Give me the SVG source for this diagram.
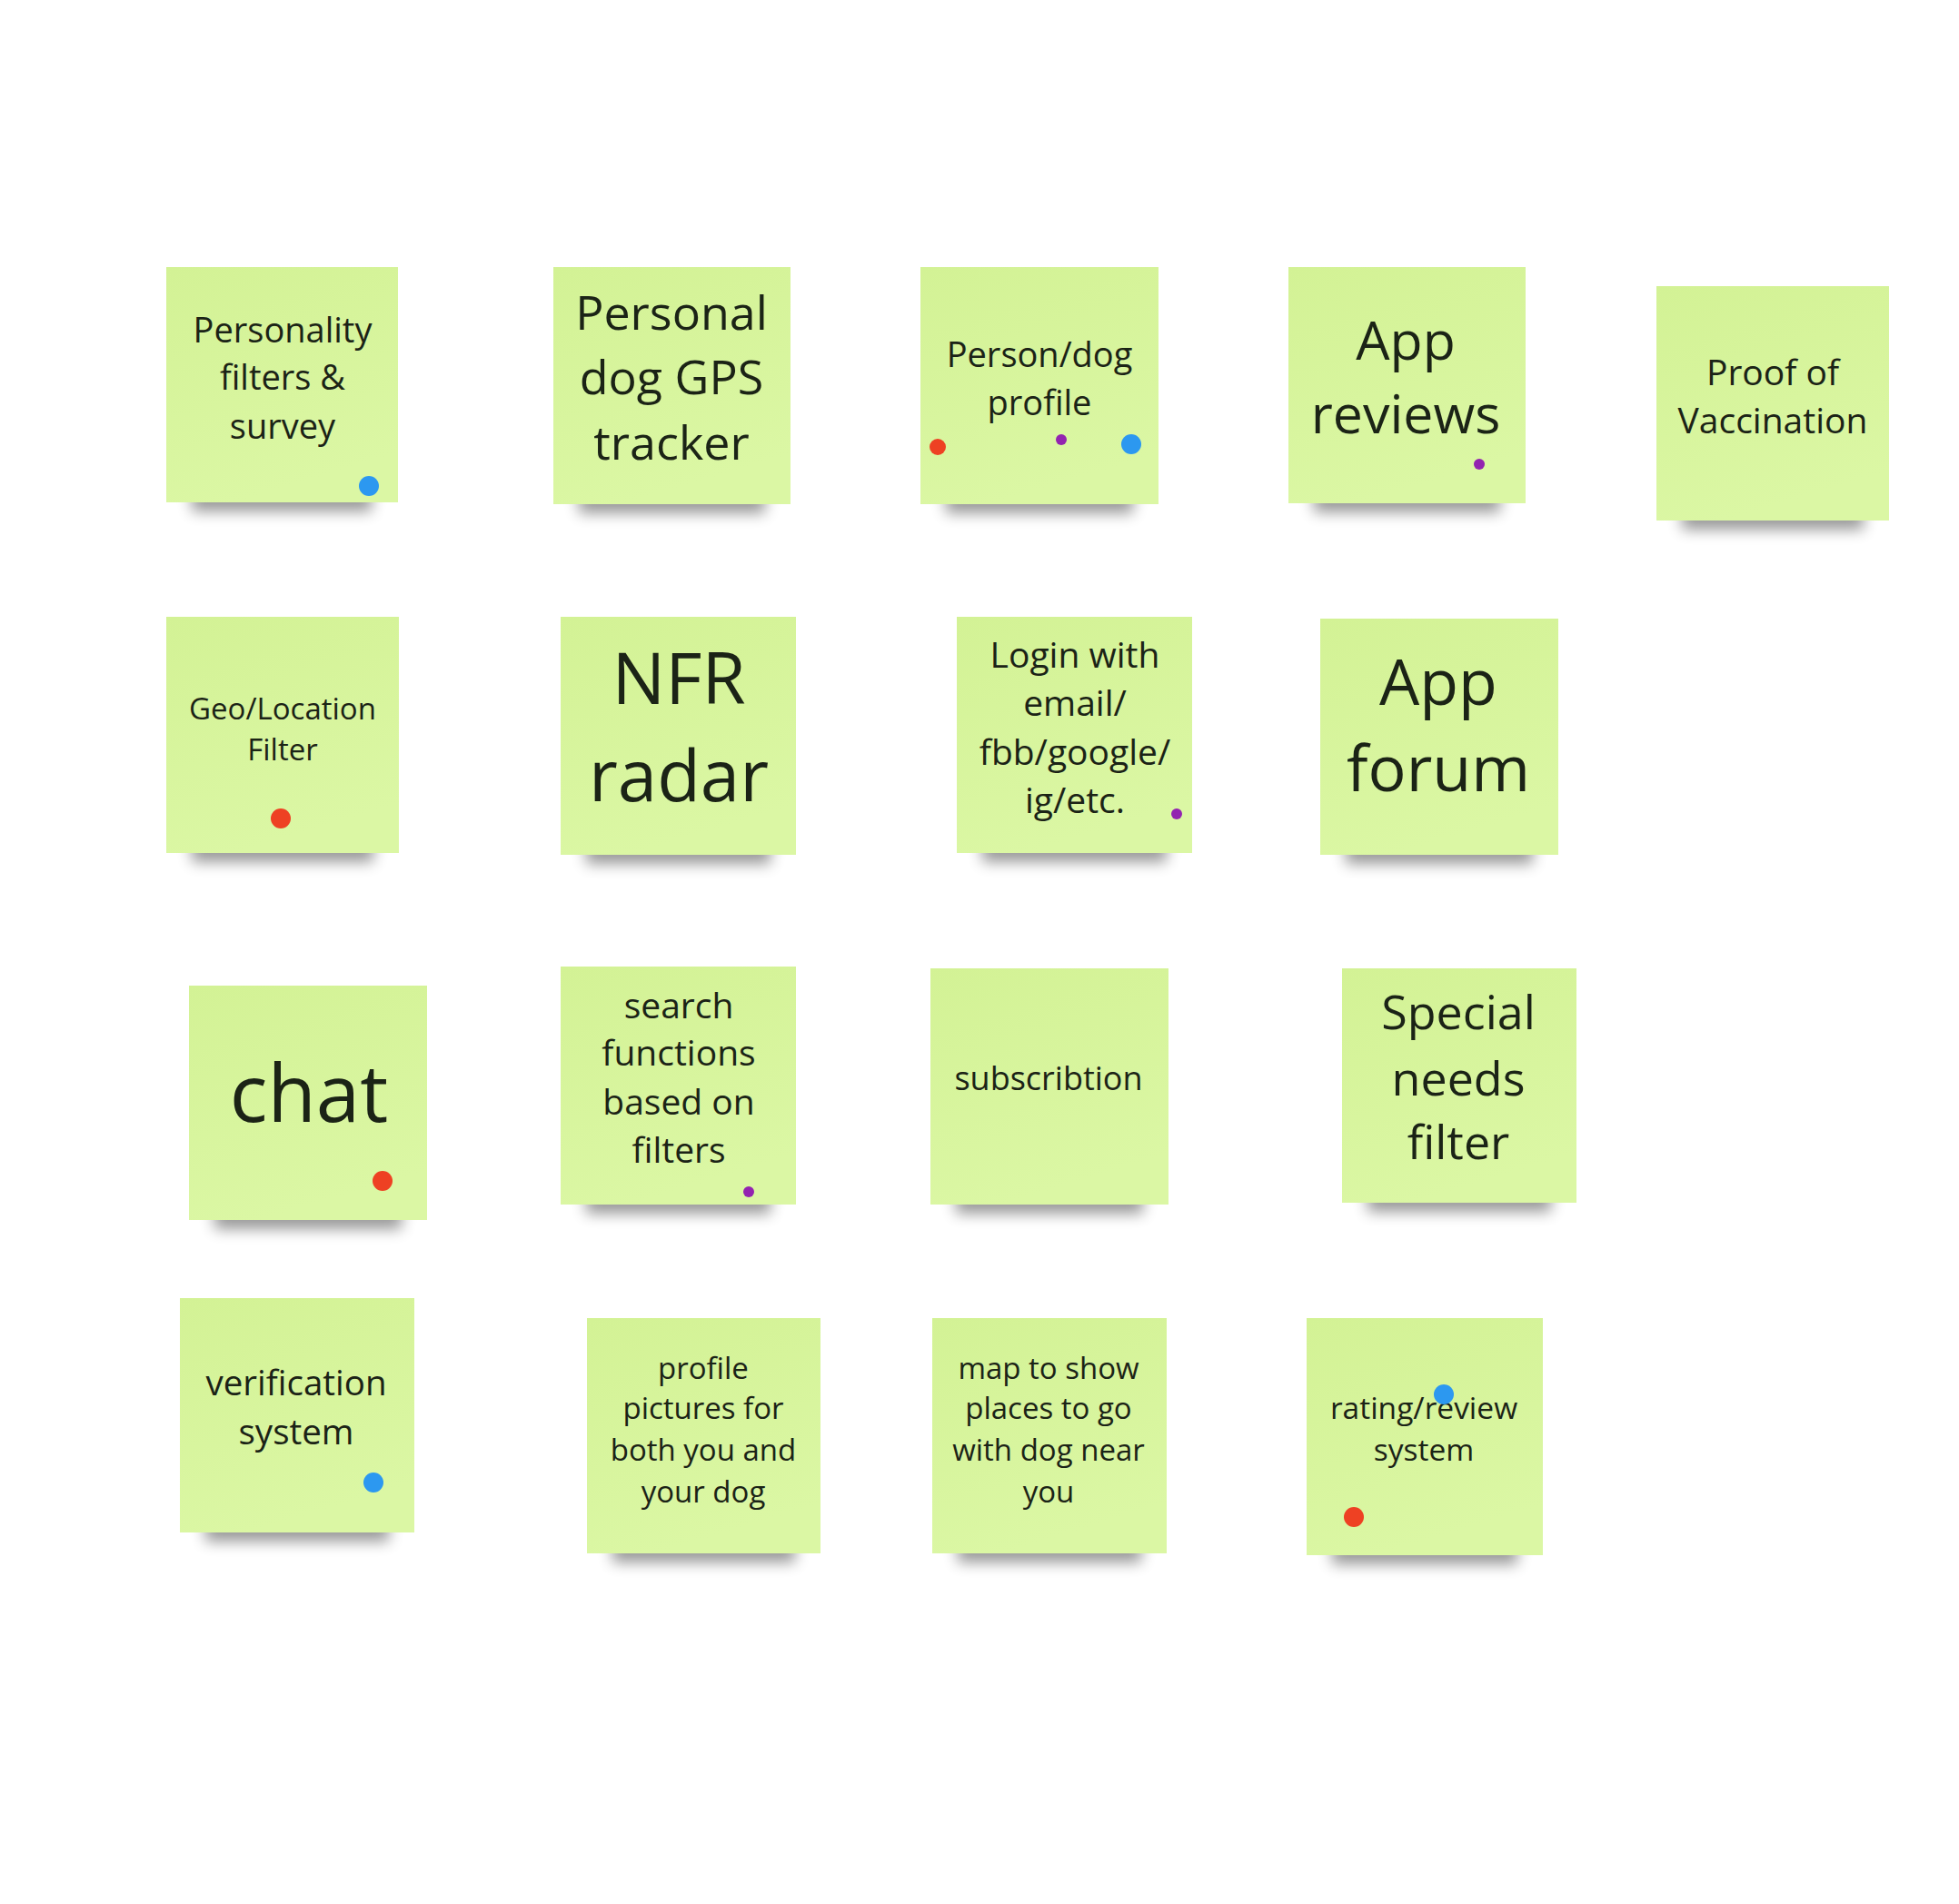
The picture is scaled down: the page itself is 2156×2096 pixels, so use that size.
<svg xmlns="http://www.w3.org/2000/svg" width="2156" height="2096" viewBox="0 0 2156 2096">
<style>
.note{fill:url(#paper)}
.sh{fill:#000;opacity:0.4;filter:url(#blur)}
text{font-family:"Open Sans","Noto Sans","Liberation Sans",sans-serif;fill:#1b2316;text-anchor:middle}
.red{fill:#ee4123}
.blue{fill:#2c98f0}
.purple{fill:#9323b0}
</style>
<defs>
<linearGradient id="paper" x1="0" y1="0" x2="0.3" y2="1">
<stop offset="0" stop-color="#d3f295"/>
<stop offset="1" stop-color="#dbf7a4"/>
</linearGradient>
<filter id="blur" x="-20%" y="-60%" width="140%" height="220%">
<feGaussianBlur stdDeviation="8"/>
</filter>
</defs>
<rect width="2156" height="2096" fill="#ffffff"/>
<g id="connectors"></g>

<g id="n1">
<rect class="sh" x="211" y="531" width="198" height="32"/>
<rect class="note" x="183" y="294" width="255" height="259"/>
<text font-size="38"><tspan x="311" y="377">Personality</tspan><tspan x="311" y="429">filters &amp;</tspan><tspan x="311" y="483">survey</tspan></text>
<circle class="blue" cx="406" cy="535" r="11"/>
</g>

<g id="n2">
<rect class="sh" x="637" y="533" width="205" height="32"/>
<rect class="note" x="609" y="294" width="261" height="261"/>
<text font-size="52"><tspan x="739" y="363">Personal</tspan><tspan x="739" y="434">dog GPS</tspan><tspan x="739" y="506">tracker</tspan></text>
</g>

<g id="n3">
<rect class="sh" x="1041" y="533" width="206" height="32"/>
<rect class="note" x="1013" y="294" width="262" height="261"/>
<text font-size="38"><tspan x="1144" y="404">Person/dog</tspan><tspan x="1144" y="457">profile</tspan></text>
<circle class="red" cx="1032" cy="492" r="9"/>
<circle class="purple" cx="1168" cy="484" r="6"/>
<circle class="blue" cx="1245" cy="489" r="11"/>
</g>

<g id="n4">
<rect class="sh" x="1446" y="532" width="205" height="32"/>
<rect class="note" x="1418" y="294" width="261" height="260"/>
<text font-size="59"><tspan x="1547" y="396">App</tspan><tspan x="1547" y="477">reviews</tspan></text>
<circle class="purple" cx="1628" cy="511" r="6"/>
</g>

<g id="n5">
<rect class="sh" x="1851" y="551" width="200" height="32"/>
<rect class="note" x="1823" y="315" width="256" height="258"/>
<text font-size="39"><tspan x="1951" y="424">Proof of</tspan><tspan x="1951" y="477">Vaccination</tspan></text>
</g>

<g id="n6">
<rect class="sh" x="211" y="917" width="200" height="32"/>
<rect class="note" x="183" y="679" width="256" height="260"/>
<text font-size="33"><tspan x="311" y="792">Geo/Location</tspan><tspan x="311" y="837">Filter</tspan></text>
<circle class="red" cx="309" cy="901" r="11"/>
</g>

<g id="n7">
<rect class="sh" x="645" y="919" width="203" height="32"/>
<rect class="note" x="617" y="679" width="259" height="262"/>
<text font-size="78"><tspan x="747" y="775">NFR</tspan><tspan x="747" y="882">radar</tspan></text>
</g>

<g id="n8">
<rect class="sh" x="1081" y="917" width="203" height="32"/>
<rect class="note" x="1053" y="679" width="259" height="260"/>
<text font-size="39"><tspan x="1183" y="735">Login with</tspan><tspan x="1183" y="788">email/</tspan><tspan x="1183" y="842">fbb/google/</tspan><tspan x="1183" y="895">ig/etc.</tspan></text>
<circle class="purple" cx="1295" cy="896" r="6"/>
</g>

<g id="n9">
<rect class="sh" x="1481" y="919" width="206" height="32"/>
<rect class="note" x="1453" y="681" width="262" height="260"/>
<text font-size="70"><tspan x="1583" y="776">App</tspan><tspan x="1583" y="871">forum</tspan></text>
</g>

<g id="n10">
<rect class="sh" x="236" y="1321" width="206" height="32"/>
<rect class="note" x="208" y="1085" width="262" height="258"/>
<text font-size="87"><tspan x="340" y="1235">chat</tspan></text>
<circle class="red" cx="421" cy="1300" r="11"/>
</g>

<g id="n11">
<rect class="sh" x="645" y="1304" width="203" height="32"/>
<rect class="note" x="617" y="1064" width="259" height="262"/>
<text font-size="39"><tspan x="747" y="1121">search</tspan><tspan x="747" y="1173">functions</tspan><tspan x="747" y="1227">based on</tspan><tspan x="747" y="1280">filters</tspan></text>
<circle class="purple" cx="824" cy="1312" r="6"/>
</g>

<g id="n12">
<rect class="sh" x="1052" y="1304" width="206" height="32"/>
<rect class="note" x="1024" y="1066" width="262" height="260"/>
<text font-size="36"><tspan x="1154" y="1200">subscribtion</tspan></text>
</g>

<g id="n13">
<rect class="sh" x="1505" y="1302" width="202" height="32"/>
<rect class="note" x="1477" y="1066" width="258" height="258"/>
<text font-size="52"><tspan x="1605" y="1133">Special</tspan><tspan x="1605" y="1206">needs</tspan><tspan x="1605" y="1276">filter</tspan></text>
</g>

<g id="n14">
<rect class="sh" x="226" y="1665" width="202" height="32"/>
<rect class="note" x="198" y="1429" width="258" height="258"/>
<text font-size="38.5"><tspan x="326" y="1536">verification</tspan><tspan x="326" y="1590">system</tspan></text>
<circle class="blue" cx="411" cy="1632" r="11"/>
</g>

<g id="n15">
<rect class="sh" x="674" y="1688" width="201" height="32"/>
<rect class="note" x="646" y="1451" width="257" height="259"/>
<text font-size="33"><tspan x="774" y="1518">profile</tspan><tspan x="774" y="1562">pictures for</tspan><tspan x="774" y="1608">both you and</tspan><tspan x="774" y="1654">your dog</tspan></text>
</g>

<g id="n16">
<rect class="sh" x="1054" y="1688" width="202" height="32"/>
<rect class="note" x="1026" y="1451" width="258" height="259"/>
<text font-size="33"><tspan x="1154" y="1518">map to show</tspan><tspan x="1154" y="1562">places to go</tspan><tspan x="1154" y="1608">with dog near</tspan><tspan x="1154" y="1654">you</tspan></text>
</g>

<g id="n17">
<rect class="sh" x="1466" y="1690" width="204" height="32"/>
<rect class="note" x="1438" y="1451" width="260" height="261"/>
<text font-size="33.5"><tspan x="1567" y="1562">rating/review</tspan><tspan x="1567" y="1608">system</tspan></text>
<circle class="blue" cx="1589" cy="1535" r="11"/>
<circle class="red" cx="1490" cy="1670" r="11"/>
</g>
</svg>
